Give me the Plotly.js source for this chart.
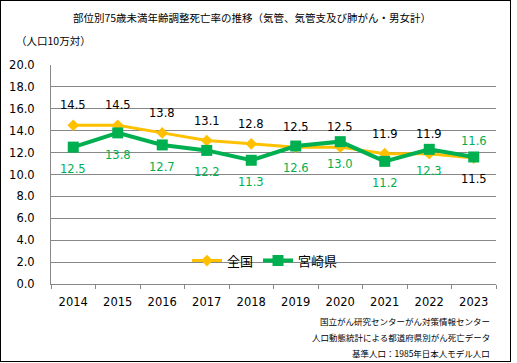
<!DOCTYPE html>
<html><head><meta charset="utf-8">
<script src="https://cdn.plot.ly/plotly-3.0.1.min.js"></script>
<style>
html,body{margin:0;padding:0;background:#fff;}
#wrap{position:relative;width:517px;height:363px;}
#chart{position:absolute;left:0;top:0;width:517px;height:363px;}
#frame{position:absolute;left:0;top:0;width:509px;height:360px;border:1px solid #000;pointer-events:none;}
</style></head>
<body>
<div id="wrap"><div id="chart"></div><div id="frame"></div></div>
<script>
const years = ['2014','2015','2016','2017','2018','2019','2020','2021','2022','2023'];
const national = [14.5, 14.5, 13.8, 13.1, 12.8, 12.5, 12.5, 11.9, 11.9, 11.5];
const miyazaki = [12.5, 13.8, 12.7, 12.2, 11.3, 12.6, 13.0, 11.2, 12.3, 11.6];
const nationalLabelSide = ['above','above','above','above','above','above','above','above','above','below'];
const miyazakiLabelSide = ['below','below','below','below','below','below','below','below','below','above'];
const seriesNames = ['全国', '宮崎県'];
const titleText = '部位別75歳未満年齢調整死亡率の推移（気管、気管支及び肺がん・男女計）';
const unitText = '（人口10万対）';
const sourceLines = ['国立がん研究センターがん対策情報センター', '人口動態統計による都道府県別がん死亡データ', '基準人口：1985年日本人モデル人口'];

const L = 51, R = 496, T = 64.5, B = 284.5, W = 517, H = 363;
const px = v => (v - L) / (R - L);
const py = v => (B - v) / (B - T);

const ORANGE = '#FFC000', GREEN = '#00B050';
const numFont = {family: 'DejaVu Sans, Verdana, sans-serif', size: 11.5, color: '#000'};
const cjk = 'Noto Sans CJK JP, sans-serif';

const traces = [
  {x: years, y: national, name: seriesNames[0], type: 'scatter', mode: 'lines+markers',
   line: {color: ORANGE, width: 3}, marker: {symbol: 'diamond', size: 9, color: ORANGE}},
  {x: years, y: miyazaki, name: seriesNames[1], type: 'scatter', mode: 'lines+markers',
   line: {color: GREEN, width: 4}, marker: {symbol: 'square', size: 11, color: GREEN}}
];

const annotations = [];
years.forEach((yr, i) => {
  annotations.push({x: i, y: national[i], xref: 'x', yref: 'y', text: national[i].toFixed(1),
    showarrow: false, yshift: nationalLabelSide[i] === 'above' ? 20 : -21, font: numFont});
  annotations.push({x: i, y: miyazaki[i], xref: 'x', yref: 'y', text: miyazaki[i].toFixed(1),
    showarrow: false, yshift: miyazakiLabelSide[i] === 'above' ? 16 : -22,
    font: Object.assign({}, numFont, {color: GREEN})});
});
annotations.push({xref: 'paper', yref: 'paper', x: px(14), y: py(40), xanchor: 'left', yanchor: 'middle',
  text: unitText, showarrow: false, font: {family: cjk, size: 10.5, color: '#000'}});
sourceLines.forEach((s, i) => {
  annotations.push({xref: 'paper', yref: 'paper', x: px(492), y: py(322 + 16 * i), xanchor: 'right', yanchor: 'middle',
    text: s, showarrow: false, font: {family: cjk, size: 8.5, color: '#000'}});
});

const layout = {
  width: W, height: H,
  margin: {l: L, r: W - R, t: T, b: H - B, pad: 0},
  paper_bgcolor: '#fff', plot_bgcolor: '#fff',
  showlegend: true,
  title: {text: titleText, x: 252 / W, xref: 'container', xanchor: 'center', y: 1 - 18 / H, yref: 'container', yanchor: 'middle',
    font: {family: cjk, size: 10.5, color: '#000'}},
  xaxis: {type: 'category', range: [-0.5, years.length - 0.5], autorange: false, showline: true, linecolor: '#888', linewidth: 1,
    ticks: 'outside', tickson: 'boundaries', ticklen: 4, tickcolor: '#888', showgrid: false, tickfont: numFont,
    tickangle: 0, ticklabelstandoff: 7, fixedrange: true},
  yaxis: {range: [0, 20], autorange: false, dtick: 2, tick0: 0, tickformat: '.1f', showline: true, linecolor: '#888', linewidth: 1,
    showgrid: true, gridcolor: '#888', gridwidth: 1, zeroline: false, ticks: '', tickfont: numFont,
    ticklabelstandoff: 13, fixedrange: true},
  legend: {orientation: 'h', x: px(187), y: py(261), xanchor: 'left', yanchor: 'middle', bgcolor: 'rgba(0,0,0,0)',
    font: {family: cjk, size: 13, color: '#000'}, itemwidth: 30},
  annotations: annotations
};

Plotly.newPlot('chart', traces, layout, {displayModeBar: false, staticPlot: true});
</script>
</body></html>
